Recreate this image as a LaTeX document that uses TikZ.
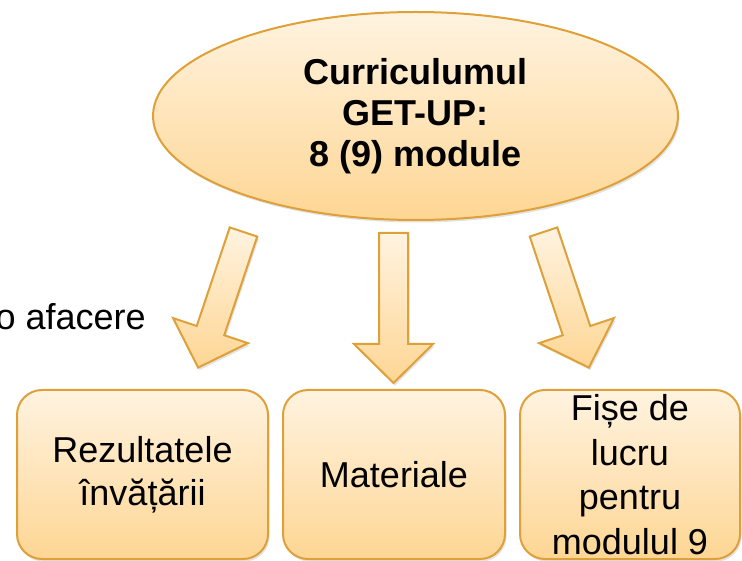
\documentclass[tikz,border=0pt]{standalone}
\usepackage{fontspec}
\setmainfont{Liberation Sans}
\usetikzlibrary{shapes.geometric,shadows}
\definecolor{bord}{RGB}{222,160,56}
\definecolor{ftop}{RGB}{255,243,224}
\definecolor{fbot}{RGB}{254,214,148}
\tikzset{
  shapefill/.style={draw=bord, line width=2pt, top color=ftop, bottom color=fbot,
    drop shadow={opacity=0.22, shadow xshift=1.5pt, shadow yshift=-2.5pt}},
  boxnode/.style={shapefill, rounded corners=25pt, minimum height=169pt,
    align=center, inner sep=0pt, font=\fontsize{36}{43}\selectfont},
  ellnode/.style={shapefill, ellipse, minimum width=525pt, minimum height=208pt,
    align=center, inner sep=0pt, font=\fontsize{36}{41}\selectfont\bfseries},
  plaintext/.style={inner sep=0pt, font=\fontsize{36}{43}\selectfont},
  pics/blockarr/.style args={#1/#2}{code={
    \draw[shapefill, line join=miter]
      (-14.5,0) -- (-14.5,#1) -- (-39.5,#1) -- (0,#2) -- (39.5,#1) -- (14.5,#1) -- (14.5,0) -- cycle;
  }}
}
\begin{document}
\begin{tikzpicture}[x=1pt, y=-1pt]
  \useasboundingbox (0,0) rectangle (742,561);
  % central ellipse
  \node[ellnode] (cur) at (415.5,116) {Curriculumul\\GET-UP:\\8 (9) module};
  % partially visible text at left
  \node[plaintext, anchor=base east] (txt) at (146,330) {o afacere};
  % boxes
  \node[boxnode, minimum width=251pt] (b1) at (142.5,474.5) {Rezultatele\\învățării};
  \node[boxnode, minimum width=222pt] (b2) at (394,474.5) {Materiale};
  \node[boxnode, minimum width=220pt, font=\fontsize{36}{44.5}\selectfont] (b3) at (630,474.5) {Fișe de\\lucru\\pentru\\modulul 9};
  % block arrows from ellipse to boxes
  \coordinate (a1) at (243.5,232);
  \coordinate (a2) at (393.5,233);
  \coordinate (a3) at (543.5,232);
  \pic[rotate=-18.5] at (a1) {blockarr=104/143};
  \pic at (a2) {blockarr=111/150};
  \pic[rotate=18.5] at (a3) {blockarr=104/143};
\end{tikzpicture}
\end{document}
